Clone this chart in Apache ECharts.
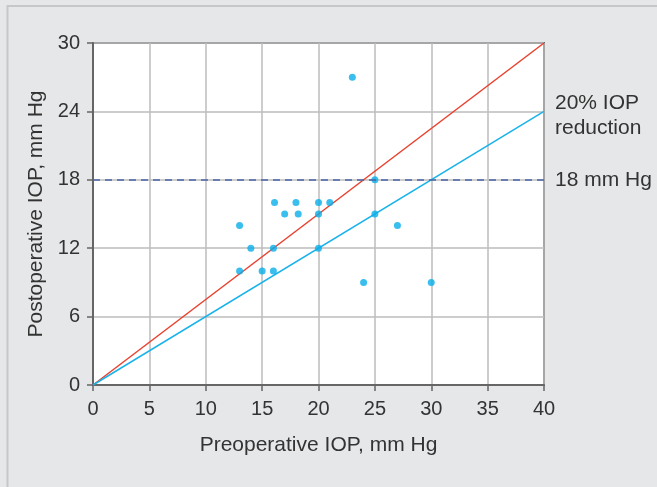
<!DOCTYPE html>
<html><head><meta charset="utf-8">
<script src="https://cdn.jsdelivr.net/npm/echarts@6/dist/echarts.min.js"></script>
<style>html,body{margin:0;padding:0;background:#e6e7e9;}#c{width:657px;height:487px;}</style>
</head><body><div id="c"></div>
<script>
// Data
const preIOP  = [23, 13, 14, 13, 15, 16, 16.1, 17, 18, 18.2, 20, 20, 21, 16, 20, 25, 25, 27, 24, 30];
const postIOP = [27, 14, 12, 10, 10, 10, 16, 15, 16, 15, 16, 15, 16, 12, 12, 18, 15, 14, 9, 9];
const identityLine = [[0, 0], [40, 30]];
const reductionLine = [[0, 0], [40, 24]];
const thresholdValue = 18;
const xTicks = [0, 40, 5];   // min, max, interval
const yTicks = [0, 30, 6];

const chart = echarts.init(document.getElementById('c'));
const font = 'Liberation Sans, Arial, sans-serif';
chart.setOption({
  backgroundColor: '#e6e7e9',
  animation: false,
  graphic: [{
    type: 'rect', shape: {x: 7.5, y: 6, width: 700, height: 600},
    style: {fill: 'none', stroke: '#c6c7c9', lineWidth: 2}, silent: true, z: -10
  }],
  grid: {left: 93, top: 43, right: 113, bottom: 102, show: true, backgroundColor: '#fff', borderColor: '#666', borderWidth: 2},
  xAxis: {
    type: 'value', min: xTicks[0], max: xTicks[1], interval: xTicks[2],
    name: 'Preoperative IOP, mm Hg', nameLocation: 'middle', nameGap: 50,
    nameTextStyle: {fontFamily: font, fontSize: 21, color: '#333'},
    axisLine: {lineStyle: {color: '#666', width: 2}},
    axisTick: {show: true, inside: false, length: 6, lineStyle: {color: '#666', width: 1.5}},
    axisLabel: {fontFamily: font, fontSize: 20, color: '#333', margin: 14},
    splitLine: {lineStyle: {color: '#bdbdbd', width: 1.5}}
  },
  yAxis: {
    type: 'value', min: yTicks[0], max: yTicks[1], interval: yTicks[2],
    name: 'Postoperative IOP, mm Hg', nameLocation: 'middle', nameGap: 46, nameRotate: 90,
    nameTextStyle: {fontFamily: font, fontSize: 21, color: '#333'},
    axisLine: {lineStyle: {color: '#666', width: 2}},
    axisTick: {show: true, inside: false, length: 6, lineStyle: {color: '#666', width: 1.5}},
    axisLabel: {fontFamily: font, fontSize: 20, color: '#333', margin: 13},
    splitLine: {lineStyle: {color: '#bdbdbd', width: 1.5}}
  },
  series: [
    {
      type: 'line', data: identityLine, symbol: 'none',
      lineStyle: {color: '#e8412f', width: 1.5}, z: 3
    },
    {
      type: 'line', data: reductionLine, symbol: 'none',
      lineStyle: {color: '#19b2ea', width: 1.5}, z: 3,
      endLabel: {show: true, formatter: '20% IOP\nreduction', fontFamily: font, fontSize: 21,
        color: '#333', lineHeight: 25, distance: 11, offset: [0, 4], align: 'left'}
    },
    {
      type: 'scatter', data: preIOP.map((x, i) => [x, postIOP[i]]),
      symbolSize: 7, itemStyle: {color: '#09aeea'}, z: 4,
      markLine: {
        silent: true, symbol: 'none',
        lineStyle: {color: '#4a63a8', type: [7, 5], width: 1.5},
        label: {show: true, position: 'end', formatter: '18 mm Hg', fontFamily: font, fontSize: 21, color: '#333', distance: 11},
        data: [{yAxis: thresholdValue}]
      }
    }
  ]
});
</script></body></html>
